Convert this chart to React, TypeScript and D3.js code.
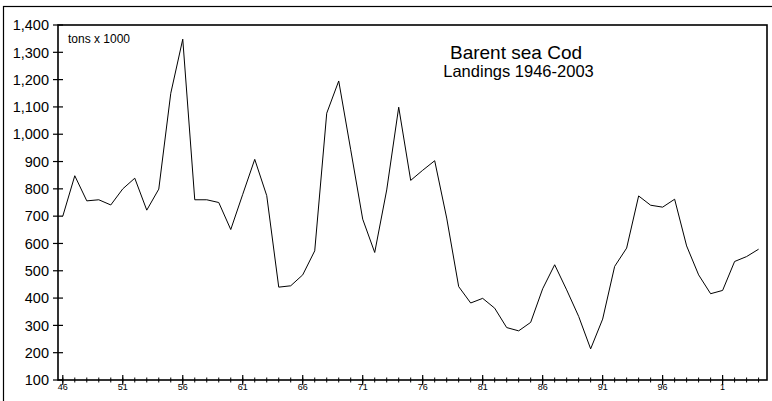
import React from "react";
import * as d3 from "d3";

const years: number[] = d3.range(1946, 2005);
const landings: number[] = [
  700, 848, 756, 760, 741, 800, 839, 722, 799, 1150,
  1348, 760, 760, 750, 651, 780, 908, 775, 440, 445,
  485, 573, 1077, 1195, 943, 689, 567, 796, 1099, 831,
  868, 903, 693, 442, 382, 399, 363, 292, 280, 311,
  434, 522, 430, 333, 214, 323, 516, 583, 774, 740,
  733, 762, 591, 485, 416, 428, 534, 552, 579,
];
const yTicks: number[] = d3.range(100, 1401, 100);
const majorYears: number[] = d3.range(1946, 2005, 5);
const titleText = "Barent sea Cod";
const subtitleText = "Landings 1946-2003";
const unitText = "tons x 1000";

const W = 772;
const H = 401;
const left = 58;
const right = 767;
const top = 25;
const bottom = 380;

export default function App() {
  const x = d3.scaleLinear().domain([1945.6, 2004.7]).range([left, right]);
  const y = d3.scaleLinear().domain([100, 1400]).range([bottom, top]);
  const line = d3
    .line<number>()
    .x((_, i) => x(years[i]))
    .y((d) => y(d));
  const fmt = d3.format(",");
  const font = "Arial, 'Liberation Sans', Helvetica, sans-serif";

  return (
    <svg
      width={W}
      height={H}
      style={{ position: "absolute", left: 0, top: 0, background: "#fff" }}
      fontFamily={font}
    >
      <rect x={0} y={0} width={W} height={H} fill="#fff" />
      <rect x={3.5} y={6.5} width={W + 20} height={H + 20} fill="none" stroke="#000" strokeWidth={1.2} />
      <rect
        x={left}
        y={top}
        width={right - left}
        height={bottom - top}
        fill="none"
        stroke="#000"
        strokeWidth={1.6}
      />
      {yTicks.map((t) => (
        <g key={"y" + t}>
          <line x1={left - 5} x2={left + 5} y1={y(t)} y2={y(t)} stroke="#000" strokeWidth={1.2} />
          <text x={49} y={y(t)} dy="0.36em" textAnchor="end" fontSize={14.5} fill="#000">
            {fmt(t)}
          </text>
        </g>
      ))}
      {years.map((yr) => (
        <line
          key={"m" + yr}
          x1={x(yr)}
          x2={x(yr)}
          y1={bottom - 2.5}
          y2={bottom + 2.5}
          stroke="#000"
          strokeWidth={1}
        />
      ))}
      {majorYears.map((yr) => (
        <g key={"M" + yr}>
          <line x1={x(yr)} x2={x(yr)} y1={bottom - 5} y2={bottom + 5} stroke="#000" strokeWidth={1.2} />
          <text x={x(yr)} y={389.5} textAnchor="middle" fontSize={9} fill="#000">
            {String(yr % 100)}
          </text>
        </g>
      ))}
      <path d={line(landings) || ""} fill="none" stroke="#000" strokeWidth={1} strokeLinejoin="miter" />
      <text x={68} y={42.7} fontSize={12} fill="#000">
        {unitText}
      </text>
      <text x={516} y={59.3} textAnchor="middle" fontSize={19} fill="#000">
        {titleText}
      </text>
      <text x={518.5} y={77.3} textAnchor="middle" fontSize={16.5} fill="#000">
        {subtitleText}
      </text>
    </svg>
  );
}
